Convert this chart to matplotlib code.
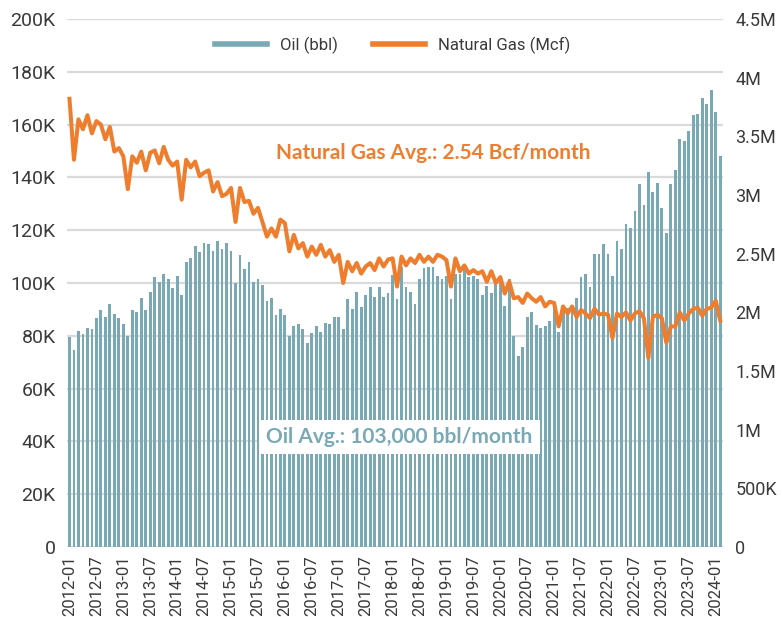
import numpy as np
import pandas as pd
import matplotlib
matplotlib.use("Agg")
import matplotlib.pyplot as plt
from matplotlib.lines import Line2D

months = pd.period_range("2012-01", "2024-02", freq="M").strftime("%Y-%m").tolist()

oil_k = [79.7, 74.6, 81.8, 80.7, 83.1, 82.6, 86.6, 89.8, 87.2, 91.9, 88.3, 86.6,
         84.3, 80.1, 89.8, 89.0, 94.3, 89.8, 96.7, 102.1, 100.4, 103.3, 101.5,
         98.0, 102.7, 95.5, 108.1, 109.3, 114.1, 111.6, 115.3, 114.6, 112.2, 115.9,
         112.9, 115.3, 112.2, 99.9, 110.6, 105.2, 108.1, 100.5, 101.5, 99.1, 93.3,
         94.4, 87.9, 90.2,
         87.9, 80.1, 83.7, 84.3, 82.4, 77.1, 81.2, 83.7, 81.3, 84.7, 84.3, 87.2,
         87.2, 82.4, 93.8, 90.2, 96.7, 90.8, 95.5, 98.4, 94.8, 98.4, 94.8, 96.3,
         103.0, 93.8, 106.2, 98.4, 96.7, 92.0, 101.5, 105.6, 106.2, 106.2, 102.7,
         101.5, 102.7, 93.8, 103.4, 103.4, 105.9, 102.1, 102.7, 101.5, 95.5, 99.0,
         96.1, 101.5, 101.0,
         91.3, 101.4, 79.9, 72.3, 75.9, 87.2, 89.0, 84.1, 82.8, 83.7, 85.7, 90.0,
         81.3, 89.8, 90.4, 89.4, 94.2, 102.1, 103.4, 98.4, 111.0, 111.0, 114.6,
         111.0, 102.7,
         115.9, 112.9, 122.3, 120.7, 127.3, 137.4, 129.5, 142.0, 134.3, 137.9, 128.5,
         118.8, 137.4, 142.8, 154.5, 153.9, 157.6, 163.6, 164.1, 170.0, 167.8, 173.1,
         164.6, 148.1]

gas_m = [3.82, 3.30, 3.645, 3.56, 3.68, 3.525, 3.63, 3.60, 3.475, 3.58, 3.37, 3.40,
         3.33, 3.05, 3.33, 3.275, 3.37, 3.21, 3.36, 3.38, 3.27, 3.41, 3.30, 3.25,
         3.285, 2.96, 3.30, 3.235, 3.285, 3.16, 3.19, 3.21, 3.03, 3.11, 2.99, 3.01,
         3.06, 2.77, 3.06, 2.94, 2.95, 2.84, 2.89, 2.77, 2.645, 2.715, 2.645, 2.79,
         2.76, 2.52, 2.66, 2.545, 2.59, 2.475, 2.56, 2.49, 2.575, 2.475, 2.53, 2.43,
         2.49, 2.25, 2.43, 2.35, 2.42, 2.33, 2.39, 2.42, 2.36, 2.46, 2.39, 2.45,
         2.46, 2.22, 2.475, 2.40, 2.46, 2.42, 2.49, 2.43, 2.475, 2.43, 2.49, 2.475,
         2.445, 2.22, 2.46, 2.35, 2.40, 2.33, 2.36, 2.33, 2.35, 2.26, 2.35, 2.25, 2.30,
         2.16, 2.26, 2.12, 2.13, 2.08, 2.16, 2.12, 2.09, 2.13, 2.05, 2.09, 2.08,
         1.88, 2.05, 1.99, 2.05, 1.96, 2.02, 1.99, 1.95, 2.03, 1.98, 1.99, 1.98,
         1.78, 1.99, 1.96, 2.00, 1.93, 1.99, 2.01, 1.95, 1.61, 1.96, 1.98, 1.95,
         1.74, 1.88, 1.88, 2.00, 1.93, 1.99, 2.03, 2.04, 1.97, 2.03, 2.04, 2.10, 1.93]

left_ticks = [0, 20000, 40000, 60000, 80000, 100000, 120000, 140000, 160000, 180000, 200000]
left_labels = ["0", "20K", "40K", "60K", "80K", "100K", "120K", "140K", "160K", "180K", "200K"]
right_ticks = [0, 500000, 1000000, 1500000, 2000000, 2500000, 3000000, 3500000, 4000000, 4500000]
right_labels = ["0", "500K", "1M", "1.5M", "2M", "2.5M", "3M", "3.5M", "4M", "4.5M"]

oil = np.array(oil_k) * 1000
gas = np.array(gas_m) * 1e6

OIL_C = "#78a9b4"
GAS_C = "#ef7d2e"
TXT_C = "#3a3a3a"
GRID_C = "#dadada"

plt.rcParams["font.family"] = ["Roboto", "DejaVu Sans"]

fig = plt.figure(figsize=(7.82, 6.17), dpi=100)
ax = fig.add_axes([0.0854, 0.1135, 0.839, 0.8557])
ax2 = ax.twinx()

x = np.arange(len(months))
ax.bar(x, oil, width=0.62, color=OIL_C, zorder=2)
ax.set_ylim(0, 200000)
ax.set_xlim(-0.6, len(months) - 0.4)
ax.set_yticks(left_ticks)
ax.set_yticklabels(left_labels)
ax.grid(axis="y", color=GRID_C, linewidth=1.6, zorder=0)
ax.set_axisbelow(True)

ax2.plot(x, gas, color=GAS_C, linewidth=2.9, solid_joinstyle="round", zorder=3)
ax2.set_ylim(0, 4500000)
ax2.set_yticks(right_ticks)
ax2.set_yticklabels(right_labels)

tick_idx = list(range(0, len(months), 6))
ax.set_xticks(tick_idx)
ax.set_xticklabels([months[i] for i in tick_idx], rotation=90)

for a in (ax, ax2):
    for s in a.spines.values():
        s.set_visible(False)
    a.tick_params(length=0, colors=TXT_C)
ax.tick_params(axis="y", labelsize=14, pad=8)
ax2.tick_params(axis="y", labelsize=13, pad=9)
ax.tick_params(axis="x", labelsize=12, pad=6)

handles = [Line2D([0], [0], color=OIL_C, lw=4),
           Line2D([0], [0], color=GAS_C, lw=4)]
leg = ax.legend(handles, ["Oil (bbl)", "Natural Gas (Mcf)"], loc="center",
                bbox_to_anchor=(0.497, 0.951), ncol=2, frameon=False,
                fontsize=12, handlelength=3.1, columnspacing=2.1, handletextpad=0.8)
for t in leg.get_texts():
    t.set_color(TXT_C)

ax.text(0.558, 0.746, "Natural Gas Avg.: 2.54 Bcf/month", transform=ax.transAxes,
        ha="center", va="center", color=GAS_C, fontsize=15, fontweight="bold",
        family=["Lato", "DejaVu Sans"], zorder=5)
ax2.text(0.507, 0.208, "Oil Avg.: 103,000 bbl/month", transform=ax.transAxes,
         ha="center", va="center", color=OIL_C, fontsize=15, fontweight="bold",
         family=["Lato", "DejaVu Sans"], zorder=6,
         bbox=dict(boxstyle="square,pad=0.35", facecolor="white", edgecolor="none"))

fig.savefig("out.png", dpi=100)
